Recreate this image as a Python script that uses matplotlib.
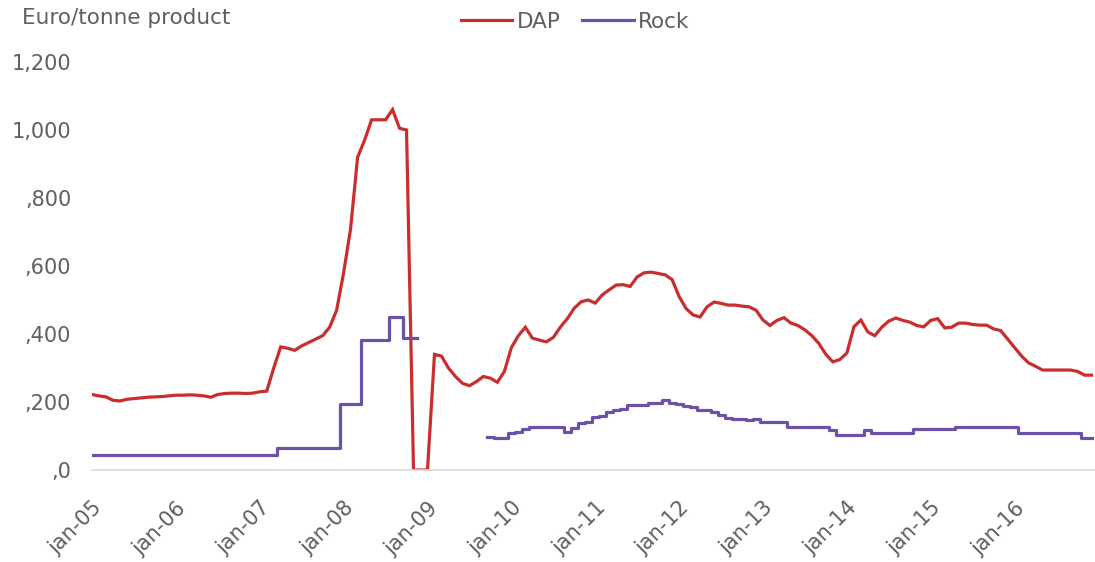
import numpy as np
import matplotlib
matplotlib.use("Agg")
import matplotlib.pyplot as plt

# monthly prices, jan-05 .. dec-16 (euro/tonne product)
dap = [222, 218, 215, 205, 203, 208, 210, 212, 214, 215, 216, 218,
       220, 220, 221, 220, 218, 214, 222, 225, 226, 226, 225, 226,
       230, 232, 300, 362, 358, 352, 365, 375, 385, 395, 420, 470,
       580, 710, 920, 970, 1030, 1030, 1030, 1060, 1005, 1000, 0, 0,
       0, 340, 335, 300, 275, 255, 248, 260, 275, 270, 258, 290,
       360, 395, 420, 388, 382, 377, 390, 420, 445, 476, 495, 500,
       491, 515, 530, 544, 545, 540, 568, 580, 582, 578, 574, 560,
       510, 475, 456, 450, 480, 494, 490, 485, 485, 482, 480, 470,
       441, 425, 440, 448, 432, 425, 412, 395, 372, 340, 318, 325,
       344, 421, 441, 406, 395, 420, 438, 447, 440, 435, 425, 421,
       440, 445, 418, 420, 432, 432, 428, 426, 426, 415, 410, 385,
       360, 335, 315, 305, 294, 294, 294, 294, 294, 290, 279, 279]

nan = np.nan
rock = [44, 44, 44, 44, 44, 44, 44, 44, 44, 44, 44, 44,
        44, 44, 44, 44, 44, 44, 44, 44, 44, 44, 44, 44,
        44, 44, 44, 65, 65, 65, 65, 65, 65, 65, 65, 65,
        194, 194, 194, 382, 382, 382, 382, 450, 450, 388, 388, nan,
        nan, nan, nan, nan, nan, nan, nan, nan, nan, 97, 95, 94,
        109, 112, 120, 126, 126, 126, 126, 126, 112, 125, 138, 140,
        156, 160, 170, 176, 178, 191, 191, 192, 197, 197, 205, 197,
        195, 188, 186, 176, 176, 170, 162, 153, 150, 150, 148, 150,
        141, 141, 141, 141, 126, 126, 126, 126, 126, 126, 118, 103,
        103, 103, 103, 118, 109, 109, 109, 109, 109, 109, 121, 121,
        121, 121, 121, 121, 126, 126, 126, 126, 126, 126, 126, 126,
        126, 109, 109, 109, 109, 109, 109, 109, 109, 109, 94, 94]

year_labels = ["jan-05", "jan-06", "jan-07", "jan-08", "jan-09", "jan-10",
               "jan-11", "jan-12", "jan-13", "jan-14", "jan-15", "jan-16"]
y_ticks = [0, 200, 400, 600, 800, 1000, 1200]
y_labels = [",0", ",200", ",400", ",600", ",800", "1,000", "1,200"]

grey = "#5f5f5f"
plt.rcParams["font.family"] = ["DejaVu Sans"]

fig = plt.figure(figsize=(10.95, 5.62), dpi=100)
ax = fig.add_axes([92 / 1095, 92 / 562, 1003 / 1095, 408 / 562])

months = np.arange(len(dap))
ax.plot(months, dap, color="#C92D2D", lw=2.3, label="DAP", solid_joinstyle="miter")
ax.plot(months, rock, color="#6B52A8", lw=2.3, label="Rock", drawstyle="steps-mid")

ax.set_xlim(0, 143.5)
ax.set_ylim(0, 1200)
ax.set_xticks(np.arange(0, 144, 12))
ax.set_xticklabels(year_labels, rotation=45, ha="right", va="top",
                   rotation_mode="anchor")
ax.set_yticks(y_ticks)
ax.set_yticklabels(y_labels)
ax.tick_params(axis="x", length=0, pad=20, labelsize=15, labelcolor=grey)
ax.tick_params(axis="y", length=0, pad=15, labelsize=15, labelcolor=grey)

for s in ["top", "right", "left"]:
    ax.spines[s].set_visible(False)
ax.spines["bottom"].set_color("#d9d9d9")
ax.spines["bottom"].set_linewidth(1.2)

fig.text(22 / 1095, 1 - 18 / 562, "Euro/tonne product", fontsize=15.5,
         color=grey, va="center", ha="left")
fig.legend(loc="center", bbox_to_anchor=(575 / 1095, 1 - 22 / 562), ncol=2,
           frameon=False, fontsize=15.5, labelcolor=grey, handlelength=2.4,
           handletextpad=0.2, columnspacing=1.0)

fig.savefig("out.png", dpi=100)
